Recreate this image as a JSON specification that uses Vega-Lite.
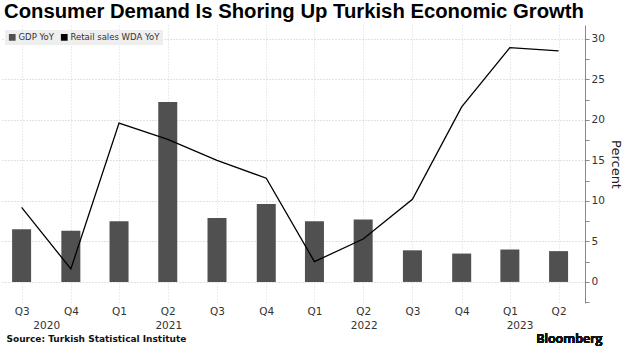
{
  "$schema": "https://vega.github.io/schema/vega-lite/v6.json",
  "width": 585,
  "height": 278,
  "autosize": {"type": "none"},
  "padding": {"left": 0, "top": 25, "right": 45, "bottom": 53},
  "background": "white",
  "title": {
    "text": "Consumer Demand Is Shoring Up Turkish Economic Growth",
    "anchor": "start",
    "frame": "group",
    "dx": 4,
    "offset": 3,
    "font": "Liberation Sans",
    "fontSize": 20.3,
    "fontWeight": "bold",
    "color": "#000000"
  },
  "config": {
    "view": {"stroke": null},
    "axis": {
      "labelFont": "DejaVu Sans",
      "labelFontSize": 10.5,
      "labelColor": "#333333",
      "titleFont": "DejaVu Sans",
      "gridColor": "#c4c4c4",
      "gridDash": [1, 2],
      "gridWidth": 1
    }
  },
  "data": {
    "values": [
      {"quarter": "2020-09-30", "gdp": 6.5, "retail": 9.2},
      {"quarter": "2020-12-31", "gdp": 6.3, "retail": 1.6},
      {"quarter": "2021-03-31", "gdp": 7.5, "retail": 19.6},
      {"quarter": "2021-06-30", "gdp": 22.2, "retail": 17.6},
      {"quarter": "2021-09-30", "gdp": 7.9, "retail": 15.0},
      {"quarter": "2021-12-31", "gdp": 9.6, "retail": 12.8},
      {"quarter": "2022-03-31", "gdp": 7.5, "retail": 2.5},
      {"quarter": "2022-06-30", "gdp": 7.7, "retail": 5.3},
      {"quarter": "2022-09-30", "gdp": 3.9, "retail": 10.2},
      {"quarter": "2022-12-31", "gdp": 3.5, "retail": 21.6},
      {"quarter": "2023-03-31", "gdp": 4.0, "retail": 28.9},
      {"quarter": "2023-06-30", "gdp": 3.8, "retail": 28.5}
    ]
  },
  "layer": [
    {
      "mark": {"type": "bar", "width": 19, "color": "#505050"},
      "encoding": {
        "x": {
          "field": "quarter",
          "type": "temporal",
          "scale": {
            "type": "utc",
            "domain": [
              {"year": 2020, "month": 8, "date": 30, "utc": true},
              {"year": 2023, "month": 8, "date": 9, "utc": true}
            ]
          },
          "axis": {
            "orient": "bottom",
            "title": null,
            "values": [
              {"year": 2020, "month": 9, "date": 30, "utc": true},
              {"year": 2020, "month": 12, "date": 31, "utc": true},
              {"year": 2021, "month": 3, "date": 31, "utc": true},
              {"year": 2021, "month": 6, "date": 30, "utc": true},
              {"year": 2021, "month": 9, "date": 30, "utc": true},
              {"year": 2021, "month": 12, "date": 31, "utc": true},
              {"year": 2022, "month": 3, "date": 31, "utc": true},
              {"year": 2022, "month": 6, "date": 30, "utc": true},
              {"year": 2022, "month": 9, "date": 30, "utc": true},
              {"year": 2022, "month": 12, "date": 31, "utc": true},
              {"year": 2023, "month": 3, "date": 31, "utc": true},
              {"year": 2023, "month": 6, "date": 30, "utc": true}
            ],
            "labelExpr": "'Q' + utcquarter(datum.value)",
            "ticks": false,
            "domain": false,
            "grid": true,
            "gridColor": "#d8d8d8",
            "labelPadding": 3,
            "labelFlush": false,
            "labelOverlap": false
          }
        },
        "y": {
          "field": "gdp",
          "type": "quantitative",
          "scale": {"domain": [-2.6, 31.7], "nice": false, "zero": false},
          "axis": {
            "orient": "right",
            "title": "Percent",
            "titleAngle": 90,
            "titleFontSize": 13,
            "titleFontWeight": "normal",
            "titleColor": "#222222",
            "titlePadding": 4,
            "values": [-2.5, 0, 2.5, 5, 7.5, 10, 12.5, 15, 17.5, 20, 22.5, 25, 27.5, 30],
            "labelExpr": "datum.value % 5 === 0 ? datum.label : ''",
            "grid": false,
            "domainColor": "#888888",
            "tickColor": "#888888",
            "tickSize": 4,
            "labelPadding": 2,
            "labelFlush": false,
            "labelOverlap": false
          }
        },
        "y2": {"datum": 0},
        "color": {
          "datum": "GDP YoY",
          "type": "nominal",
          "scale": {
            "domain": ["GDP YoY", "Retail sales WDA YoY"],
            "range": ["#505050", "#000000"]
          },
          "legend": {
            "title": null,
            "orient": "top-left",
            "offset": 5,
            "direction": "horizontal",
            "fillColor": "#eeeeee",
            "padding": 3,
            "labelFont": "DejaVu Sans",
            "labelFontSize": 8.5,
            "labelColor": "#333333",
            "symbolType": "square",
            "symbolSize": 45,
            "symbolStrokeWidth": 0,
            "symbolOpacity": 1,
            "columnPadding": 6,
            "labelOffset": 2
          }
        }
      }
    },
    {
      "mark": {"type": "line", "strokeWidth": 1.3},
      "encoding": {
        "x": {
          "field": "quarter",
          "type": "temporal",
          "axis": {
            "orient": "bottom",
            "title": "Source: Turkish Statistical Institute",
            "titleAnchor": "start",
            "titleAlign": "left",
            "titleX": 6,
            "titleFont": "DejaVu Sans",
            "titleFontSize": 9,
            "titleFontWeight": "bold",
            "titleColor": "#111111",
            "titlePadding": 4,
            "values": [
              {"year": 2020, "month": 11, "date": 15, "utc": true},
              {"year": 2021, "month": 7, "date": 1, "utc": true},
              {"year": 2022, "month": 7, "date": 1, "utc": true},
              {"year": 2023, "month": 4, "date": 18, "utc": true}
            ],
            "labelExpr": "utcFormat(datum.value, '%Y')",
            "ticks": false,
            "domain": false,
            "grid": false,
            "labelPadding": 17,
            "labelFlush": false,
            "labelOverlap": false
          }
        },
        "y": {
          "field": "retail",
          "type": "quantitative",
          "axis": {
            "orient": "right",
            "title": null,
            "values": [0, 5, 10, 15, 20, 25, 30],
            "grid": true,
            "labels": false,
            "ticks": false,
            "domain": false
          }
        },
        "color": {"datum": "Retail sales WDA YoY", "type": "nominal", "legend": null}
      }
    },
    {
      "mark": {"type": "text", "text": "Bloomberg", "align": "right", "baseline": "middle", "font": "Open Sans", "fontSize": 12.5, "fontWeight": 600, "color": "#111111", "clip": false},
      "encoding": {
        "x": {"datum": {"year": 2023, "month": 9, "date": 20, "utc": true}, "type": "temporal", "axis": null},
        "y": {"datum": -7.1, "type": "quantitative", "axis": null}
      }
    }
  ],
  "resolve": {"axis": {"x": "independent", "y": "independent"}}
}
